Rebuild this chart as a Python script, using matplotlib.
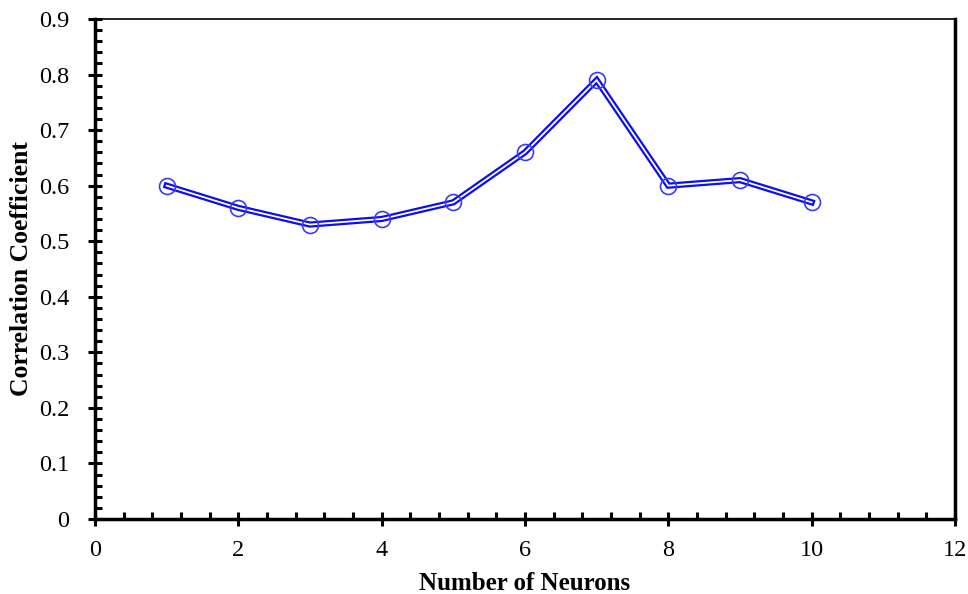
import matplotlib
matplotlib.use("Agg")
import matplotlib.pyplot as plt
from matplotlib.ticker import MultipleLocator

# data
neurons = [1, 2, 3, 4, 5, 6, 7, 8, 9, 10]
corr = [0.60, 0.56, 0.53, 0.54, 0.57, 0.66, 0.79, 0.60, 0.61, 0.57]

plt.rcParams["font.family"] = ["Liberation Serif", "DejaVu Serif"]

fig = plt.figure(figsize=(9.68, 5.94), dpi=100)
ax = fig.add_axes([95 / 968, 75 / 594, 860 / 968, 500 / 594])

# double line: thick blue with a thin white core
ax.plot(neurons, corr, color="#0d0df0", lw=4.5, solid_joinstyle="miter", zorder=3)
ax.plot(neurons, corr, color="white", lw=1.3, solid_joinstyle="miter", zorder=4)
ax.plot(neurons, corr, ls="none", marker="o", ms=11.5, mfc="none",
        mec="#3a3aff", mew=1.2, zorder=5)

ax.set_xlim(0, 12)
ax.set_ylim(0, 0.9)
ax.xaxis.set_major_locator(MultipleLocator(2))
ax.xaxis.set_minor_locator(MultipleLocator(0.4))
ax.yaxis.set_major_locator(MultipleLocator(0.1))
ax.yaxis.set_minor_locator(MultipleLocator(0.02))
ax.yaxis.set_major_formatter(plt.FuncFormatter(lambda v, p: "0" if v == 0 else f"{v:.1f}"))

ax.tick_params(which="major", direction="inout", length=10, width=2.2,
               labelsize=17.5, pad=10)
ax.tick_params(axis="y", which="major", pad=13.5)
ax.tick_params(which="minor", direction="in", length=5, width=2.2)
ax.tick_params(top=False, right=False, which="both")

ax.spines["left"].set_linewidth(2.5)
ax.spines["bottom"].set_linewidth(2.5)
ax.spines["right"].set_linewidth(2.5)
ax.spines["top"].set_linewidth(1.2)

ax.set_xlabel("Number of Neurons", fontsize=18, fontweight="bold", labelpad=8)
ax.set_ylabel("Correlation Coefficient", fontsize=18.5, fontweight="bold", labelpad=4)

fig.savefig("out.png", dpi=100)
